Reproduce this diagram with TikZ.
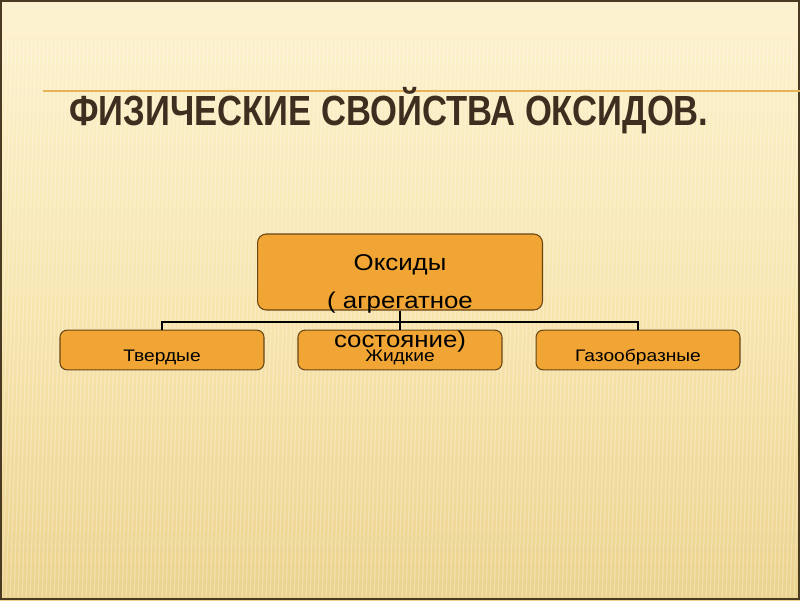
\documentclass[tikz,border=0pt]{standalone}
\usepackage{fontspec}
\setmainfont{Liberation Sans}
\newfontfamily\titlefont[FakeStretch=0.82]{Liberation Sans}
\newfontfamily\boxfont[FakeStretch=1.13]{Liberation Sans}
\newfontfamily\leaffont[FakeStretch=1.15]{Liberation Sans}
\definecolor{bgtop}{HTML}{FCF2CF}
\definecolor{bgmid}{HTML}{F8E6AF}
\definecolor{bgbot}{HTML}{ECD28D}
\definecolor{framebrown}{HTML}{4A3A22}
\definecolor{titlebrown}{HTML}{3E2E1F}
\definecolor{rulegold}{HTML}{E8B257}
\definecolor{boxfill}{HTML}{F0A535}
\definecolor{boxline}{HTML}{6A4514}
\begin{document}
\begin{tikzpicture}[x=.02cm,y=-.02cm,
  topbox/.style={draw=boxline,line width=.6pt,fill=boxfill,rounded corners=5pt,
    minimum width=5.7cm,minimum height=1.52cm,inner sep=0pt},
  leaf/.style={draw=boxline,line width=.6pt,fill=boxfill,rounded corners=4pt,
    minimum width=4.08cm,inner xsep=0pt,inner ysep=0pt,
    text height=18.1pt,text depth=4.5pt,
    font=\leaffont\fontsize{9.5}{11}\selectfont},
  conn/.style={black,line width=1.1pt}]
 \useasboundingbox (0,0) rectangle (800,600);
 % background
 \shade[top color=bgtop,bottom color=bgbot,middle color=bgmid] (0,0) rectangle (800,600);
 \fill[bgtop] (0,0) rectangle (800,36);
 \foreach \i in {0,4,...,820}
   \draw[white,opacity=.28,line width=.7pt] (\i,38) -- (\i-18,600);
 \draw[framebrown,line width=1.1pt] (1,1) rectangle (799,599);
 % title
 \draw[rulegold,line width=.8pt] (43,91) -- (800,91);
 \node[anchor=base west,inner sep=0pt,text=titlebrown,
   font=\titlefont\bfseries\fontsize{24}{28}\selectfont] (title) at (69,125)
   {ФИЗИЧЕСКИЕ СВОЙСТВА ОКСИДОВ.};
 % boxes
 \node[topbox] (oksidy) at (400,272) {};
 \node[leaf] (tverdye) at (162,350) {Твердые};
 \node[leaf] (zhidkie) at (400,350) {Жидкие};
 \node[leaf] (gazy) at (638,350) {Газообразные};
 \coordinate (bus) at (400,322);
 \draw[conn] (oksidy.south) -- (zhidkie.north);
 \draw[conn] (tverdye.north) -- (tverdye.north |- bus) -- (gazy.north |- bus) -- (gazy.north);
 \node[anchor=north,inner sep=0pt,align=center,
   font=\boxfont\fontsize{13}{22}\selectfont] (oksidytext) at (400,254)
   {Оксиды\\( агрегатное\\состояние)};
\end{tikzpicture}
\end{document}
